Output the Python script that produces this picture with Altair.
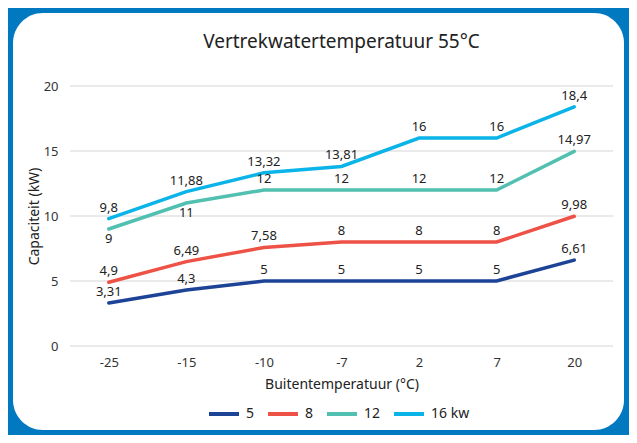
import altair as alt
import pandas as pd

temps = ["-25", "-15", "-10", "-7", "2", "7", "20"]
series_names = ["5", "8", "12", "16 kw"]
cap_5 = [3.31, 4.3, 5, 5, 5, 5, 6.61]
cap_8 = [4.9, 6.49, 7.58, 8, 8, 8, 9.98]
cap_12 = [9, 11, 12, 12, 12, 12, 14.97]
cap_16 = [9.8, 11.88, 13.32, 13.81, 16, 16, 18.4]
y_ticks = [0, 5, 10, 15, 20]
colors = ["#1D4397", "#EE5246", "#52C0B0", "#0BB4E8"]

rows = []
for name, vals in zip(series_names, [cap_5, cap_8, cap_12, cap_16]):
    for t, v in zip(temps, vals):
        rows.append({"temp": t, "series": name, "value": v,
                     "label": ("%g" % v).replace(".", ",")})
df = pd.DataFrame(rows)

W, H = 543, 260
FONT = "Noto Sans"

bg = alt.Chart(pd.DataFrame({"a": [0]})).mark_rect(
    fill="white", cornerRadius=30
).encode(
    x=alt.value(-57), x2=alt.value(W + 11),
    y=alt.value(-73), y2=alt.value(H + 84)
)

title = alt.Chart(pd.DataFrame({"a": [0]})).mark_text(
    fontSize=19, font=FONT, color="#222", align="center", baseline="middle"
).encode(x=alt.value(W / 2), y=alt.value(-44),
         text=alt.value("Vertrekwatertemperatuur 55°C"))

grid = alt.Chart(pd.DataFrame({"v": y_ticks})).mark_rule(
    color="#E3E3E3", strokeWidth=1.5
).encode(y=alt.Y("v:Q", scale=alt.Scale(domain=[0, 20])),
         x=alt.value(0), x2=alt.value(W))

xenc = alt.X("temp:N", sort=temps, title="Buitentemperatuur (°C)",
             scale=alt.Scale(padding=0.5),
             axis=alt.Axis(labelAngle=0, grid=False, ticks=False, domain=False,
                           labelPadding=10, titlePadding=8, zindex=1))
yenc = alt.Y("value:Q", title="Capaciteit (kW)",
             scale=alt.Scale(domain=[0, 20]),
             axis=alt.Axis(values=y_ticks, ticks=False, domain=False, grid=False,
                           labelPadding=12, titlePadding=2, zindex=1))

lines = alt.Chart(df).mark_line(strokeWidth=3.5, strokeCap="round").encode(
    x=xenc, y=yenc,
    color=alt.Color("series:N", sort=series_names,
                    scale=alt.Scale(domain=series_names, range=colors),
                    legend=alt.Legend(title=None, orient="none", direction="horizontal",
                                      legendX=137, legendY=311,
                                      symbolType="stroke", symbolSize=900,
                                      symbolStrokeWidth=4, labelFontSize=14,
                                      labelFont=FONT, labelColor="#222",
                                      labelOffset=5, columnPadding=5))
)

below = "datum.series == '12' && (datum.temp == '-25' || datum.temp == '-15')"
above_txt = alt.Chart(df).transform_filter("!(" + below + ")").mark_text(
    baseline="bottom", dy=-4, fontSize=13, font=FONT, color="#222"
).encode(x=alt.X("temp:N", sort=temps), y="value:Q", text="label:N")
below_txt = alt.Chart(df).transform_filter(below).mark_text(
    baseline="top", dy=4, fontSize=13, font=FONT, color="#222"
).encode(x=alt.X("temp:N", sort=temps), y="value:Q", text="label:N")

chart = alt.layer(bg, grid, lines, above_txt, below_txt, title).properties(
    width=W, height=H,
    background="#0079C1",
    padding={"left": 62, "top": 78, "right": 16, "bottom": 89},
    autosize=alt.AutoSizeParams(type="none"),
).configure_view(stroke=None).configure_axis(
    labelFont=FONT, titleFont=FONT, labelFontSize=13, titleFontSize=14,
    labelColor="#333", titleColor="#222", titleFontWeight="normal"
)

chart.save("out.html", embed_options={"renderer": "svg", "actions": False})
